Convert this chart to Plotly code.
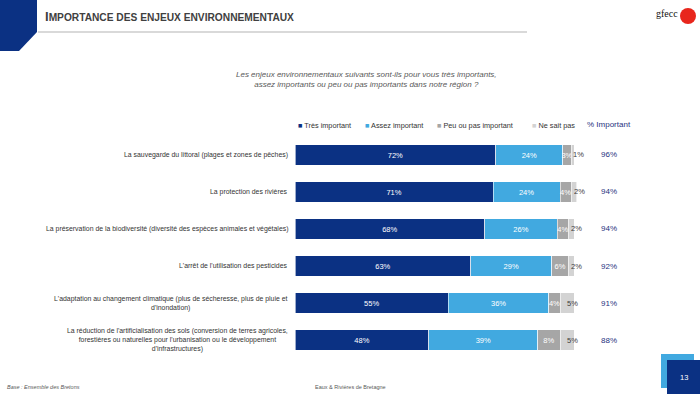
import plotly.graph_objects as go

categories = [
    "La sauvegarde du littoral (plages et zones de pêches)",
    "La protection des rivières",
    "La préservation de la biodiversité (diversité des espèces animales et végétales)",
    "L'arrêt de l'utilisation des pesticides",
    "L'adaptation au changement climatique (plus de sécheresse, plus de pluie et<br>d'inondation)",
    "La réduction de l'artificialisation des sols (conversion de terres agricoles,<br>forestières ou naturelles pour l'urbanisation ou le développement<br>d'infrastructures)",
]
tres_important = [72, 71, 68, 63, 55, 48]
assez_important = [24, 24, 26, 29, 36, 39]
peu_ou_pas = [3, 4, 4, 6, 4, 8]
ne_sait_pas = [1, 2, 2, 2, 5, 5]
pct_important = ["96%", "94%", "94%", "92%", "91%", "88%"]

series_names = ["Très important", "Assez important", "Peu ou pas important", "Ne sait pas"]
colors = ["#0B3183", "#41A9E0", "#A6A6A6", "#D3D3D3"]

W, H = 700, 394
FONT = "Liberation Sans, Arial, sans-serif"

fig = go.Figure()
series = [tres_important, assez_important, peu_ou_pas, ne_sait_pas]
for i, (name, vals) in enumerate(zip(series_names, series)):
    show_text = i < 3
    fig.add_trace(go.Bar(
        y=categories, x=vals, name=name, orientation="h",
        marker=dict(color=colors[i], line=dict(width=0.6, color="white")),
        text=[f"{v}%" for v in vals] if show_text else None,
        textposition="inside", insidetextanchor="middle", textangle=0,
        constraintext="none",
        textfont=dict(color="white", size=7.5, family=FONT),
        hoverinfo="skip", showlegend=False,
    ))

# "Ne sait pas" labels next to the last segment
for cat, a, b, c, d in zip(categories, tres_important, assez_important, peu_ou_pas, ne_sait_pas):
    start = a + b + c
    fig.add_annotation(x=start + d / 2, y=cat, xref="x", yref="y", text=f"{d}%",
                       showarrow=False, xanchor="left", xshift=-2,
                       font=dict(size=7.5, color="#404040", family=FONT))

def px(x):
    return x / W

def py(y):
    return 1 - y / H

# category labels
for cat in categories:
    fig.add_annotation(x=px(290), y=cat, xref="paper", yref="y", text=cat, showarrow=False,
                       xanchor="right", align="center",
                       font=dict(size=6.9, color="#333333", family=FONT))

# % Important column
for cat, p in zip(categories, pct_important):
    fig.add_annotation(x=px(609), y=cat, xref="paper", yref="y", text=p, showarrow=False,
                       xanchor="center", font=dict(size=8, color="#1F3380", family=FONT))

# legend (drawn as text)
leg_items = [(296, series_names[0], colors[0]), (363, series_names[1], colors[1]),
             (435, series_names[2], colors[2]), (530, series_names[3], colors[3])]
for x0, name, col in leg_items:
    fig.add_annotation(x=px(x0), y=py(125), xref="paper", yref="paper",
                       text=f"<span style='color:{col}'>■</span> {name}", showarrow=False,
                       xanchor="left", yanchor="middle",
                       font=dict(size=7.3, color="#333333", family=FONT))
fig.add_annotation(x=px(585), y=py(124), xref="paper", yref="paper", text="% Important",
                   showarrow=False, xanchor="left", yanchor="middle",
                   font=dict(size=8, color="#1F3380", family=FONT))

# subtitle
fig.add_annotation(x=px(366), y=py(79), xref="paper", yref="paper",
                   text="<i>Les enjeux environnementaux suivants sont-ils pour vous très importants,<br>assez importants ou peu ou pas importants dans notre région ?</i>",
                   showarrow=False, xanchor="center", yanchor="middle", align="center",
                   font=dict(size=8, color="#595959", family=FONT))

# title
fig.add_annotation(x=px(43), y=py(17), xref="paper", yref="paper",
                   text="<b><span style='font-size:13px'>I</span>MPORTANCE DES ENJEUX ENVIRONNEMENTAUX</b>",
                   showarrow=False, xanchor="left", yanchor="middle",
                   font=dict(size=10.2, color="#404040", family=FONT))

# footer
fig.add_annotation(x=px(5), y=py(387), xref="paper", yref="paper",
                   text="<i>Base : Ensemble des Bretons</i>", showarrow=False,
                   xanchor="left", yanchor="middle", font=dict(size=5.5, color="#595959", family=FONT))
fig.add_annotation(x=px(350), y=py(387), xref="paper", yref="paper",
                   text="Eaux & Rivières de Bretagne", showarrow=False,
                   xanchor="center", yanchor="middle", font=dict(size=5.5, color="#595959", family=FONT))
fig.add_annotation(x=px(684), y=py(377), xref="paper", yref="paper",
                   text="13", showarrow=False, xanchor="center", yanchor="middle",
                   font=dict(size=7.5, color="white", family=FONT))

# logo
fig.add_annotation(x=px(667), y=py(14), xref="paper", yref="paper",
                   text="gfecc", showarrow=False, xanchor="center", yanchor="middle",
                   font=dict(size=10, color="#111111", family="Liberation Serif, serif"))

shapes = [
    dict(type="path", xref="paper", yref="paper",
         path=f"M 0 1 L {px(37)} 1 L {px(37)} {py(32)} L {px(19)} {py(51)} L 0 {py(51)} Z",
         fillcolor="#0B3183", line=dict(width=0)),
    dict(type="rect", xref="paper", yref="paper", x0=px(38), x1=px(527), y0=py(33), y1=py(31),
         fillcolor="#D9D9D9", line=dict(width=0)),
    dict(type="rect", xref="paper", yref="paper", x0=px(661), x1=px(694), y0=py(388), y1=py(354),
         fillcolor="#41A9E0", line=dict(width=0)),
    dict(type="rect", xref="paper", yref="paper", x0=px(667), x1=px(700), y0=py(394), y1=py(360),
         fillcolor="#0B3183", line=dict(width=0)),
    dict(type="circle", xref="paper", yref="paper", x0=px(680), x1=px(696), y0=py(24), y1=py(8),
         fillcolor="#E8261C", line=dict(width=0)),
]

fig.update_layout(
    width=W, height=H, barmode="stack", bargap=0.45,
    paper_bgcolor="white", plot_bgcolor="white",
    margin=dict(l=0, r=0, t=0, b=0),
    showlegend=False, shapes=shapes,
    uniformtext=dict(minsize=6, mode="show"),
    xaxis=dict(range=[0, 102], domain=[295 / W, (295 + 279 * 1.02) / W],
               visible=False, fixedrange=True),
    yaxis=dict(autorange="reversed", domain=[1 - 358.5 / H, 1 - 136.5 / H],
               visible=False, fixedrange=True),
    font=dict(family=FONT),
)

fig.write_html("out.html", config={"displayModeBar": False},
               post_script="document.body.style.margin='0';document.body.style.overflow='hidden';")
